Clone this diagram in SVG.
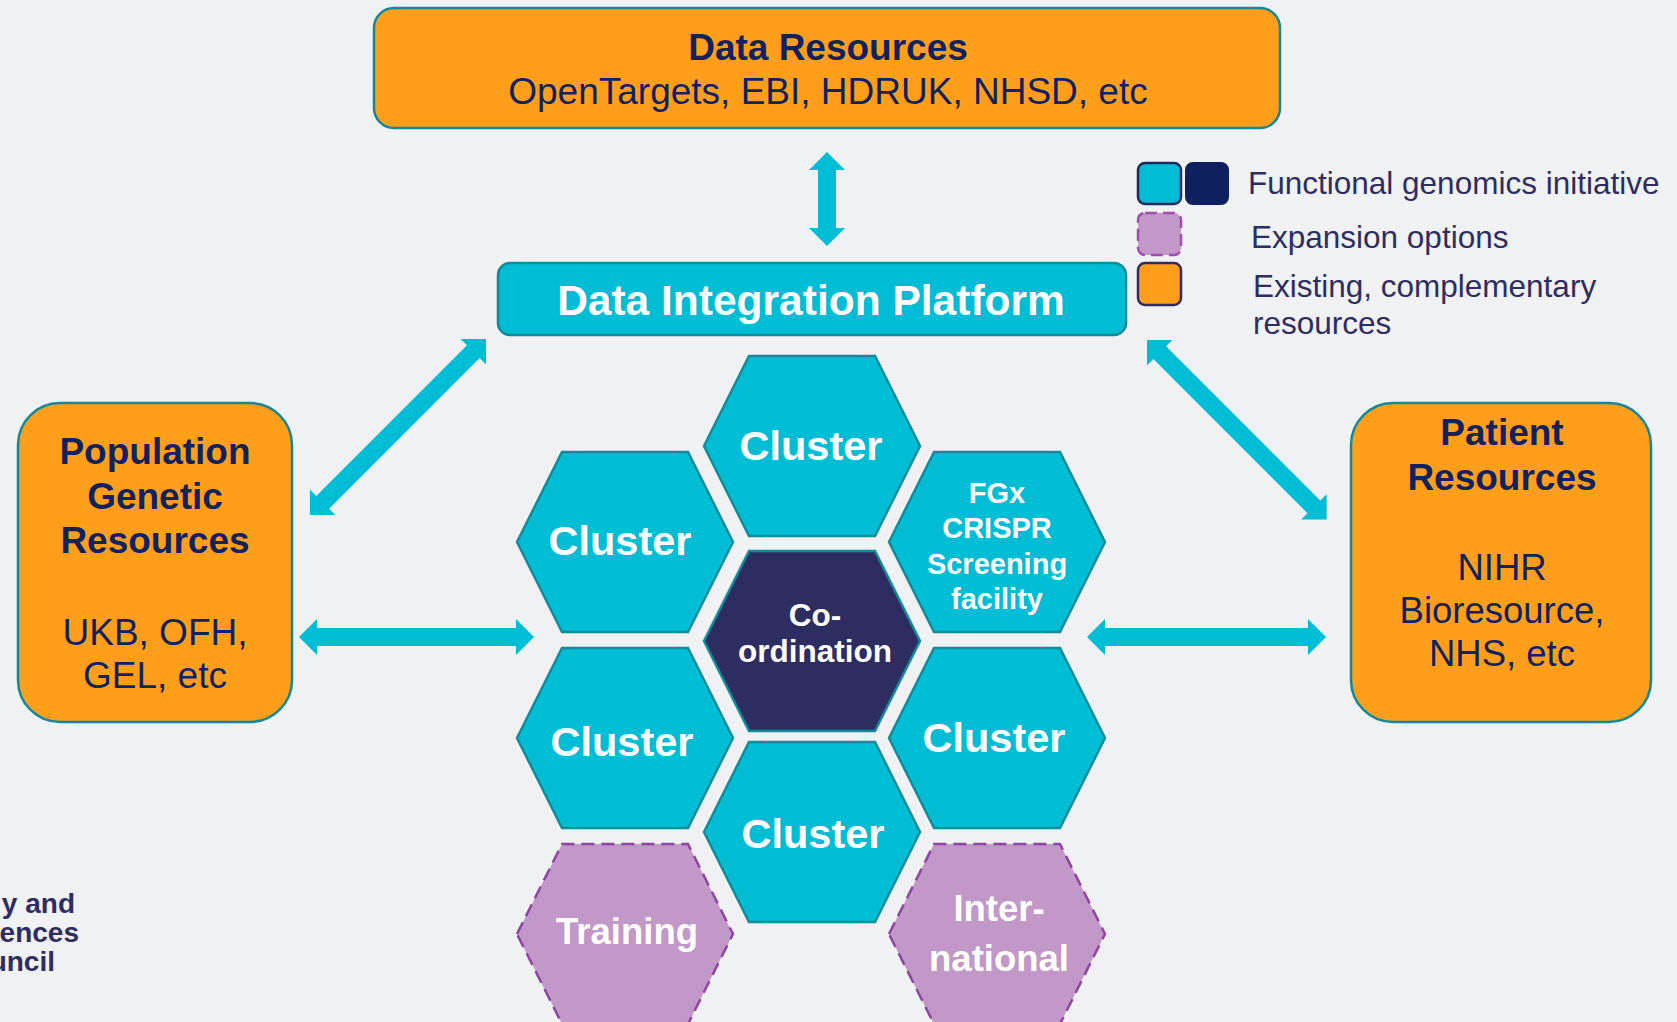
<svg xmlns="http://www.w3.org/2000/svg" xmlns:xlink="http://www.w3.org/1999/xlink" width="1677" height="1022" viewBox="0 0 1677 1022">
<style>
.bg{fill:#F0F1F3}
.res{fill:#FF9E1B;stroke:#12899A;stroke-width:2.5}
.dip{fill:#00BDD6;stroke:#0E8A98;stroke-width:2.5}
.hc{fill:#00BDD6;stroke:#128C9A;stroke-width:2.5}
.hn{fill:#2E2D62;stroke:#128C9A;stroke-width:2.5}
.hp{fill:#C198C8;stroke:#8E44A0;stroke-width:2.5;stroke-dasharray:13 7}
.arr{fill:#00BDD6}
.nb{font-family:"Liberation Sans",Arial,sans-serif;font-weight:700;fill:#10235F;text-anchor:middle}
.nr{font-family:"Liberation Sans",Arial,sans-serif;font-weight:400;fill:#10235F;text-anchor:middle}
.wb{font-family:"Liberation Sans",Arial,sans-serif;font-weight:700;fill:#FFFFFF;text-anchor:middle}
.lg{font-family:"Liberation Sans",Arial,sans-serif;font-size:31.5px;fill:#2E2D62}
.logo{font-family:"Liberation Sans",Arial,sans-serif;font-weight:700;font-size:28px;fill:#2E2D62;text-anchor:end}
</style>
<defs>
<polygon id="hex" points="-108,0 -63,-90 63,-90 108,0 63,90 -63,90"/>
</defs>
<rect class="bg" x="0" y="0" width="1677" height="1022"/>

<g id="connectors">
<polygon class="arr" points="827,152 845,170 836,170 836,228 845,228 827,246 809,228 818,228 818,170 809,170"/>
<polygon class="arr" points="299,637 317,619 317,628 516,628 516,619 534,637 516,655 516,646 317,646 317,655"/>
<polygon class="arr" points="1087,637 1105,619 1105,628 1308,628 1308,619 1326,637 1308,655 1308,646 1105,646 1105,655"/>
<polygon class="arr" transform="translate(486,339) rotate(135)" points="0,0 18,-18 18,-9 231,-9 231,-18 249,0 231,18 231,9 18,9 18,18"/>
<polygon class="arr" transform="translate(1147,340) rotate(45)" points="0,0 18,-18 18,-9 236,-9 236,-18 254,0 236,18 236,9 18,9 18,18"/>
</g>

<g id="data-resources">
<rect class="res" x="374" y="8" width="906" height="120" rx="20"/>
<text class="nb" x="828" y="60" font-size="37">Data Resources</text>
<text class="nr" x="828" y="104" font-size="37">OpenTargets, EBI, HDRUK, NHSD, etc</text>
</g>

<g id="data-integration-platform">
<rect class="dip" x="498" y="263" width="628" height="72" rx="12"/>
<text class="wb" x="811" y="315" font-size="42.5">Data Integration Platform</text>
</g>

<g id="legend">
<rect x="1138" y="163" width="43" height="41" rx="7" fill="#00BDD6" stroke="#1E2A5E" stroke-width="2.5"/>
<rect x="1186" y="163" width="42" height="41" rx="7" fill="#0F205E" stroke="#0F205E" stroke-width="2"/>
<rect x="1138" y="213" width="43" height="42" rx="7" fill="#C198C8" stroke="#A34DB0" stroke-width="2.5" stroke-dasharray="12 6"/>
<rect x="1138" y="263" width="43" height="42" rx="7" fill="#FF9E1B" stroke="#2E2D62" stroke-width="2.5"/>
<text class="lg" x="1248" y="194">Functional genomics initiative</text>
<text class="lg" x="1251" y="248">Expansion options</text>
<text class="lg" x="1253" y="297">Existing, complementary</text>
<text class="lg" x="1253" y="334">resources</text>
</g>

<g id="population-genetic-resources">
<rect class="res" x="18" y="403" width="274" height="319" rx="42"/>
<text class="nb" x="155" y="464" font-size="37">Population</text>
<text class="nb" x="155" y="509" font-size="37">Genetic</text>
<text class="nb" x="155" y="553" font-size="37">Resources</text>
<text class="nr" x="155" y="645" font-size="37">UKB, OFH,</text>
<text class="nr" x="155" y="688" font-size="37">GEL, etc</text>
</g>

<g id="patient-resources">
<rect class="res" x="1351" y="403" width="300" height="319" rx="42"/>
<text class="nb" x="1502" y="445" font-size="37">Patient</text>
<text class="nb" x="1502" y="490" font-size="37">Resources</text>
<text class="nr" x="1502" y="580" font-size="36.5">NIHR</text>
<text class="nr" x="1502" y="623" font-size="36.5">Bioresource,</text>
<text class="nr" x="1502" y="666" font-size="36.5">NHS, etc</text>
</g>

<g id="cluster-top">
<use xlink:href="#hex" href="#hex" class="hc" x="812" y="446"/>
<text class="wb" x="811" y="460" font-size="41.5">Cluster</text>
</g>
<g id="cluster-upper-left">
<use xlink:href="#hex" href="#hex" class="hc" x="625" y="542"/>
<text class="wb" x="620" y="555" font-size="41.5">Cluster</text>
</g>
<g id="fgx-crispr">
<use xlink:href="#hex" href="#hex" class="hc" x="997" y="542"/>
<text class="wb" x="997" y="503" font-size="29">FGx</text>
<text class="wb" x="997" y="538" font-size="29">CRISPR</text>
<text class="wb" x="997" y="574" font-size="29">Screening</text>
<text class="wb" x="997" y="609" font-size="29">facility</text>
</g>
<g id="coordination">
<use xlink:href="#hex" href="#hex" class="hn" x="812" y="641"/>
<text class="wb" x="815" y="626" font-size="31.5">Co-</text>
<text class="wb" x="815" y="662" font-size="31.5">ordination</text>
</g>
<g id="cluster-lower-left">
<use xlink:href="#hex" href="#hex" class="hc" x="625" y="738"/>
<text class="wb" x="622" y="756" font-size="41.5">Cluster</text>
</g>
<g id="cluster-lower-right">
<use xlink:href="#hex" href="#hex" class="hc" x="997" y="738"/>
<text class="wb" x="994" y="752" font-size="41.5">Cluster</text>
</g>
<g id="cluster-bottom">
<use xlink:href="#hex" href="#hex" class="hc" x="812" y="832"/>
<text class="wb" x="813" y="848" font-size="41.5">Cluster</text>
</g>
<g id="training">
<use xlink:href="#hex" href="#hex" class="hp" x="625" y="934"/>
<text class="wb" x="627" y="944" font-size="36.5">Training</text>
</g>
<g id="international">
<use xlink:href="#hex" href="#hex" class="hp" x="997" y="934"/>
<text class="wb" x="999" y="921" font-size="36.5">Inter-</text>
<text class="wb" x="999" y="971" font-size="36.5">national</text>
</g>

<g id="logo-fragment">
<text class="logo" x="75" y="913">y and</text>
<text class="logo" x="79" y="942">ences</text>
<text class="logo" x="55" y="971">uncil</text>
</g>
</svg>
